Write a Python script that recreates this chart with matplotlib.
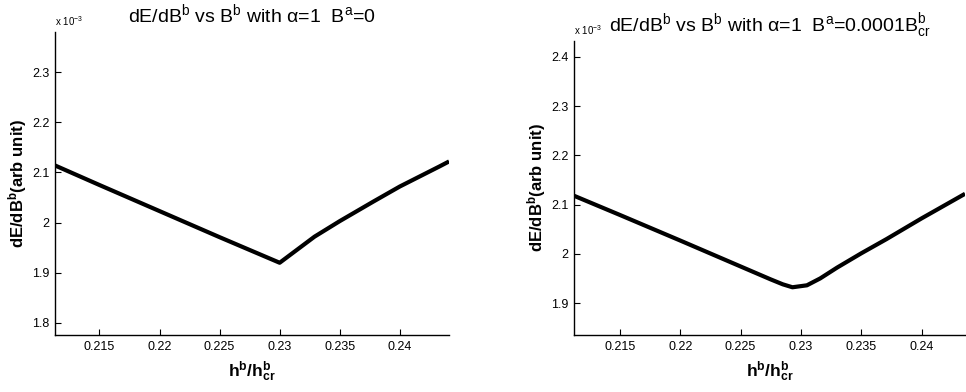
import numpy as np
import matplotlib
matplotlib.use("Agg")
import matplotlib.pyplot as plt

# values (units of 1e-3)
h_left = [0.2113, 0.215, 0.22, 0.225, 0.23, 0.2329, 0.235, 0.2378, 0.24, 0.2433, 0.2441]
dE_left = [2.114, 2.075, 2.023, 1.971, 1.920, 1.972, 2.003, 2.042, 2.072, 2.112, 2.122]

h_right = [0.2112, 0.215, 0.22, 0.2256, 0.2275, 0.2285, 0.2293, 0.2305, 0.2316,
           0.233, 0.235, 0.2371, 0.24, 0.2436]
dE_right = [2.118, 2.079, 2.027, 1.968, 1.948, 1.938, 1.932, 1.936, 1.950,
            1.972, 2.001, 2.030, 2.072, 2.122]

xticks = [0.215, 0.22, 0.225, 0.23, 0.235, 0.24]
xticklabels = ["0.215", "0.22", "0.225", "0.23", "0.235", "0.24"]
yticks_left = [1.8, 1.9, 2.0, 2.1, 2.2, 2.3]
yticks_right = [1.9, 2.0, 2.1, 2.2, 2.3, 2.4]
yticklabels_left = ["1.8", "1.9", "2", "2.1", "2.2", "2.3"]
yticklabels_right = ["1.9", "2", "2.1", "2.2", "2.3", "2.4"]

titles = [r"dE/dB$^{b}$ vs B$^{b}$ with $\alpha$=1  B$^{a}$=0",
          r"dE/dB$^{b}$ vs B$^{b}$ with $\alpha$=1  B$^{a}$=0.0001B$^{b}_{cr}$"]

plt.rcParams["font.family"] = ["Liberation Sans", "DejaVu Sans"]
plt.rcParams["mathtext.fontset"] = "custom"
plt.rcParams["mathtext.rm"] = "Liberation Sans"
plt.rcParams["mathtext.it"] = "Liberation Sans:italic"
plt.rcParams["mathtext.bf"] = "Liberation Sans:bold"
plt.rcParams["mathtext.default"] = "regular"

fig = plt.figure(figsize=(9.66, 3.92), dpi=100)
ax1 = fig.add_axes([0.0569, 0.1454, 0.408, 0.773])
ax2 = fig.add_axes([0.5942, 0.1454, 0.4048, 0.750])

panels = [
    (ax1, h_left, dE_left, (0.2113, 0.2441), (1.776, 2.380), yticks_left, yticklabels_left, titles[0]),
    (ax2, h_right, dE_right, (0.2112, 0.2436), (1.835, 2.4325), yticks_right, yticklabels_right, titles[1]),
]

for ax, x, y, xl, yl, yt, ytl, title in panels:
    ax.plot(x, y, color="black", lw=3.0, solid_capstyle="butt")
    ax.set_xlim(*xl)
    ax.set_ylim(*yl)
    ax.set_xticks(xticks)
    ax.set_xticklabels(xticklabels)
    ax.set_yticks(yt)
    ax.set_yticklabels(ytl)
    ax.tick_params(direction="in", length=4, width=0.8, labelsize=9, pad=4)
    for s in ["top", "right"]:
        ax.spines[s].set_visible(False)
    for s in ["left", "bottom"]:
        ax.spines[s].set_linewidth(1.0)
    ax.set_title(title, fontsize=14, pad=7)
    ax.set_xlabel(r"$\mathbf{h^b/h^b_{cr}}$", fontsize=12.5, labelpad=5)
    ax.set_ylabel(r"dE/dB$^\mathbf{b}$(arb unit)", fontsize=12, fontweight="bold", labelpad=2)
    ax.text(0.0, 1.012, r"x 10$^{-3}$", transform=ax.transAxes, fontsize=7,
            ha="left", va="bottom")

fig.savefig("out.png", dpi=100)
